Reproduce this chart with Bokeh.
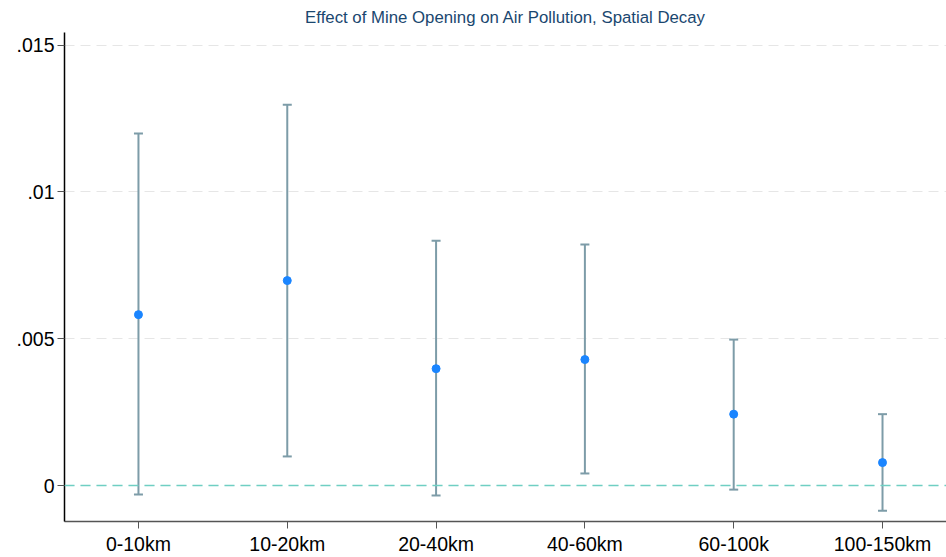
from bokeh.plotting import figure
from bokeh.models import ColumnDataSource, Whisker, TeeHead, Span, FixedTicker, Range1d
from bokeh.embed import file_html
from bokeh.resources import INLINE

categories = ["0-10km", "10-20km", "20-40km", "40-60km", "60-100k", "100-150km"]
estimate = [0.00582, 0.00698, 0.00398, 0.00429, 0.00243, 0.00078]
ci_upper = [0.01199, 0.01297, 0.00834, 0.00821, 0.00497, 0.00243]
ci_lower = [-0.00031, 0.00099, -0.00034, 0.00041, -0.00014, -0.00086]
y_ticks = [0, 0.005, 0.01, 0.015]
y_tick_labels = ["0", ".005", ".01", ".015"]

xpos = list(range(1, len(categories) + 1))
src = ColumnDataSource(dict(x=xpos, y=estimate, upper=ci_upper, lower=ci_lower))

p = figure(width=946, height=557, output_backend="svg", toolbar_location=None,
           x_range=Range1d(0.503, 6.43), y_range=Range1d(-0.001226, 0.01543),
           min_border_left=64, min_border_right=0, min_border_top=17, min_border_bottom=0)

p.title.text = "Effect of Mine Opening on Air Pollution, Spatial Decay"
p.title.align = "center"
p.title.text_font = "Liberation Sans"
p.title.text_font_style = "normal"
p.title.text_font_size = "16.8px"
p.title.text_color = "#1a476f"
p.title.offset = 0
p.title.standoff = 11

p.outline_line_color = None
p.xgrid.grid_line_color = None
p.ygrid.grid_line_color = "#e6e6e6"
p.ygrid.grid_line_dash = "10 6"
p.ygrid.grid_line_width = 1

p.yaxis.ticker = FixedTicker(ticks=y_ticks)
p.yaxis.major_label_overrides = {t: l for t, l in zip(y_ticks, y_tick_labels)}
p.xaxis.ticker = FixedTicker(ticks=xpos)
p.xaxis.major_label_overrides = {x: c for x, c in zip(xpos, categories)}
for ax in (p.xaxis, p.yaxis):
    ax.major_label_text_font = "Liberation Sans"
    ax.major_label_text_font_size = "19.5px"
    ax.major_label_text_color = "black"
    ax.minor_tick_line_color = None
    ax.major_tick_in = 0
    ax.major_tick_out = 7
p.yaxis.axis_line_color = "black"
p.yaxis.major_tick_line_color = "#555555"
p.xaxis.axis_line_color = "#555555"
p.xaxis.major_tick_line_color = "#555555"
p.xaxis.axis_line_width = 1.5
p.yaxis.axis_line_width = 1.5
p.yaxis.major_label_standoff = 3
p.xaxis.major_label_standoff = 4

zero = Span(location=0, dimension="width", line_color="#6fcfc3", line_dash="10 6", line_width=1.5)
p.add_layout(zero)

w = Whisker(source=src, base="x", upper="upper", lower="lower", dimension="height",
            line_color="#7d9ca8", line_width=2,
            upper_head=TeeHead(size=9, line_color="#7d9ca8", line_width=2),
            lower_head=TeeHead(size=9, line_color="#7d9ca8", line_width=2))
p.add_layout(w)

p.scatter("x", "y", source=src, size=8, fill_color="#1a85ff", line_color="#1a85ff")

open("out.html", "w").write(file_html(p, INLINE))
